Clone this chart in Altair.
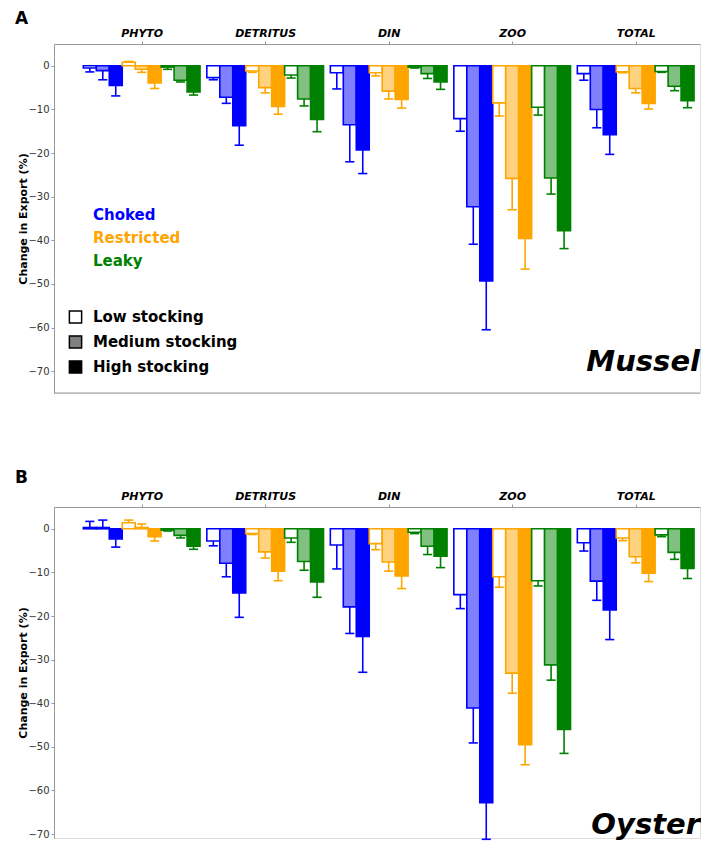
import altair as alt
import pandas as pd

groups = ["PHYTO", "DETRITUS", "DIN", "ZOO", "TOTAL"]
scenarios = ["Choked", "Restricted", "Leaky"]
stockings = ["Low", "Medium", "High"]
scen_colors = ["#0000ff", "#ffa500", "#008000"]
light_colors = ["#8080ff", "#ffd280", "#80c080"]

# order inside each group: Choked L/M/H, Restricted L/M/H, Leaky L/M/H
mussel_phyto = [-0.5, -1.1, -4.5, 0.8, -0.8, -3.9, -0.3, -3.3, -6.0]
mussel_phyto_err = [-1.4, -3.2, -6.9, 1.0, -1.5, -5.2, -0.8, -3.7, -6.7]
mussel_detritus = [-2.7, -7.2, -13.7, -1.2, -5.0, -9.3, -2.1, -7.6, -12.3]
mussel_detritus_err = [-3.2, -8.6, -18.2, -1.5, -6.2, -11.1, -2.8, -9.2, -15.1]
mussel_din = [-1.6, -13.5, -19.3, -1.6, -5.8, -7.7, -0.3, -1.8, -3.7]
mussel_din_err = [-5.3, -22.0, -24.7, -2.3, -7.6, -9.7, -0.5, -2.9, -5.4]
mussel_zoo = [-12.1, -32.3, -49.3, -8.5, -25.8, -39.6, -9.5, -25.7, -37.8]
mussel_zoo_err = [-15.0, -40.9, -60.5, -11.5, -33.0, -46.6, -11.3, -29.4, -41.9]
mussel_total = [-1.8, -10.0, -15.8, -1.4, -5.2, -8.6, -1.3, -4.7, -8.0]
mussel_total_err = [-3.3, -14.2, -20.3, -1.6, -6.2, -9.9, -1.5, -5.7, -9.6]

oyster_phyto = [0.3, 0.3, -2.3, 1.4, 0.3, -1.8, -0.3, -1.5, -4.0]
oyster_phyto_err = [1.7, 2.0, -4.2, 2.0, 1.1, -2.8, -0.5, -2.1, -4.7]
oyster_detritus = [-2.8, -7.9, -14.7, -1.1, -5.3, -9.7, -2.1, -7.5, -12.2]
oyster_detritus_err = [-3.9, -11.0, -20.3, -1.3, -6.7, -11.9, -3.1, -9.5, -15.7]
oyster_din = [-3.7, -17.9, -24.7, -3.4, -7.6, -10.8, -0.8, -4.0, -6.3]
oyster_din_err = [-9.2, -24.0, -32.9, -4.8, -9.7, -13.7, -1.1, -5.9, -8.9]
oyster_zoo = [-15.1, -41.1, -62.8, -11.0, -33.1, -49.5, -11.9, -31.2, -46.0]
oyster_zoo_err = [-18.3, -49.1, -71.2, -13.4, -37.7, -54.1, -13.1, -34.7, -51.5]
oyster_total = [-3.2, -12.0, -18.6, -2.1, -6.4, -10.2, -1.4, -5.4, -9.1]
oyster_total_err = [-5.1, -16.4, -25.4, -2.7, -7.8, -12.1, -1.8, -7.0, -11.4]

y_ticks = [0, -10, -20, -30, -40, -50, -60, -70]

mussel_means = [mussel_phyto, mussel_detritus, mussel_din, mussel_zoo, mussel_total]
mussel_errs = [mussel_phyto_err, mussel_detritus_err, mussel_din_err, mussel_zoo_err, mussel_total_err]
oyster_means = [oyster_phyto, oyster_detritus, oyster_din, oyster_zoo, oyster_total]
oyster_errs = [oyster_phyto_err, oyster_detritus_err, oyster_din_err, oyster_zoo_err, oyster_total_err]

FONT = "DejaVu Sans"
PW = 646
PX_PER_GROUP = 123.5
X_MIN = -0.71
X_MAX = X_MIN + PW / PX_PER_GROUP
BAR_W = 0.105


def make_df(means, errs):
    rows = []
    for gi, g in enumerate(groups):
        for si, s in enumerate(scenarios):
            for ki, k in enumerate(stockings):
                i = si * 3 + ki
                rows.append(dict(group=g, gi=gi, scenario=s, stocking=k,
                                 key=f"{s}-{k}", slot=i,
                                 value=means[gi][i], end=errs[gi][i]))
    return pd.DataFrame(rows)


fill_domain, fill_range = [], []
for si, s in enumerate(scenarios):
    for k, c in zip(stockings, ["#ffffff", light_colors[si], scen_colors[si]]):
        fill_domain.append(f"{s}-{k}")
        fill_range.append(c)

label_expr = "[" + ",".join(f"'{g}'" for g in groups) + "][datum.value]"


def panel(means, errs, height, ymin, letter, letter_dy, animal, bottom_line):
    df = make_df(means, errs)
    xscale = alt.Scale(domain=[X_MIN, X_MAX], nice=False, zero=False)
    yscale = alt.Scale(domain=[ymin, 5], nice=False, zero=False)
    xaxis = alt.Axis(orient="top", values=[0, 1, 2, 3, 4], labelExpr=label_expr,
                     labelFontStyle="italic", labelFontWeight="bold", labelFontSize=11,
                     labelColor="#000", tickSize=3, tickColor="#999", domainColor="#999",
                     grid=False, title=None, labelPadding=3, labelFont=FONT)
    yaxis = alt.Axis(values=y_ticks, title="Change in Export (%)", titleFontWeight="bold",
                     titleFontSize=11, titleColor="#000", titleFont=FONT,
                     titleX=-31, titleY=height / 2, titleAngle=270,
                     titleAlign="center", titleBaseline="middle",
                     labelFontSize=10, labelColor="#333", labelFont=FONT,
                     tickSize=3, tickColor="#999", domainColor="#999", grid=False,
                     labelPadding=2)

    base = alt.Chart(df).transform_calculate(
        xc=f"datum.gi + (datum.slot - 4) * {BAR_W}",
    ).transform_calculate(
        xl=f"datum.xc - {BAR_W / 2}", xr=f"datum.xc + {BAR_W / 2}",
        cl="datum.xc - 0.037", cr="datum.xc + 0.037", zero="0",
    )
    stroke_scale = alt.Scale(domain=scenarios, range=scen_colors)
    bars = base.mark_bar(strokeWidth=1.6, opacity=1).encode(
        x=alt.X("xl:Q", scale=xscale, axis=xaxis),
        x2="xr:Q",
        y=alt.Y("value:Q", scale=yscale, axis=yaxis),
        y2="zero:Q",
        fill=alt.Fill("key:N", scale=alt.Scale(domain=fill_domain, range=fill_range), legend=None),
        stroke=alt.Stroke("scenario:N", scale=stroke_scale, legend=None),
    )
    err = base.mark_rule(strokeWidth=1.6).encode(
        x=alt.X("xc:Q", scale=xscale, axis=xaxis),
        y=alt.Y("value:Q", scale=yscale, axis=yaxis),
        y2="end:Q",
        color=alt.Color("scenario:N", scale=stroke_scale, legend=None),
    )
    caps = base.mark_rule(strokeWidth=1.6).encode(
        x=alt.X("cl:Q", scale=xscale, axis=xaxis),
        x2="cr:Q",
        y=alt.Y("end:Q", scale=yscale, axis=yaxis),
        color=alt.Color("scenario:N", scale=stroke_scale, legend=None),
    )
    layers = [bars, err, caps]
    if bottom_line:
        layers.append(alt.Chart(pd.DataFrame({"v": [ymin]})).mark_rule(color="#999", strokeWidth=1).encode(
            y=alt.Y("v:Q", scale=yscale, axis=yaxis), x=alt.value(0), x2=alt.value(PW)))
    layers.append(alt.Chart(pd.DataFrame({"t": [letter]})).mark_text(
        font=FONT, fontWeight="bold", fontSize=17, align="left", baseline="middle").encode(
        text="t:N", x=alt.value(-39), y=alt.value(letter_dy)))
    layers.append(alt.Chart(pd.DataFrame({"t": [animal]})).mark_text(
        font=FONT, fontWeight="bold", fontStyle="italic", fontSize=29, align="right",
        baseline="alphabetic").encode(text="t:N", x=alt.value(PW), y=alt.value(327)))
    return alt.layer(*layers).properties(width=PW, height=height)


top = panel(mussel_means, mussel_errs, 349, -75, "A", -25, "Mussel", True)

# legends on panel A
leg_layers = []
for i, (s, c) in enumerate(zip(scenarios, scen_colors)):
    leg_layers.append(alt.Chart(pd.DataFrame({"t": [s]})).mark_text(
        font=FONT, fontWeight="bold", fontSize=15, align="left", baseline="middle", color=c).encode(
        text="t:N", x=alt.value(39), y=alt.value(171 + 23 * i)))
for i, (lab, f) in enumerate(zip(["Low stocking", "Medium stocking", "High stocking"],
                                 ["#ffffff", "#808080", "#000000"])):
    leg_layers.append(alt.Chart(pd.DataFrame({"t": [lab]})).mark_square(
        size=150, fill=f, stroke="#000", strokeWidth=1.5, opacity=1).encode(
        x=alt.value(21.5), y=alt.value(273 + 25 * i)))
    leg_layers.append(alt.Chart(pd.DataFrame({"t": [lab]})).mark_text(
        font=FONT, fontWeight="bold", fontSize=15, align="left", baseline="middle", color="#000").encode(
        text="t:N", x=alt.value(39), y=alt.value(273 + 25 * i)))

top = alt.layer(top, *leg_layers)
bottom = panel(oyster_means, oyster_errs, 331, -70.9, "B", -29.5, "Oyster", False)

chart = alt.vconcat(top, bottom, spacing=74).properties(
    padding={"left": 6, "top": 1, "right": 0, "bottom": 0}
).configure_view(stroke=None).configure(font=FONT)

chart.save("out.html", embed_options={"renderer": "svg", "actions": False})
